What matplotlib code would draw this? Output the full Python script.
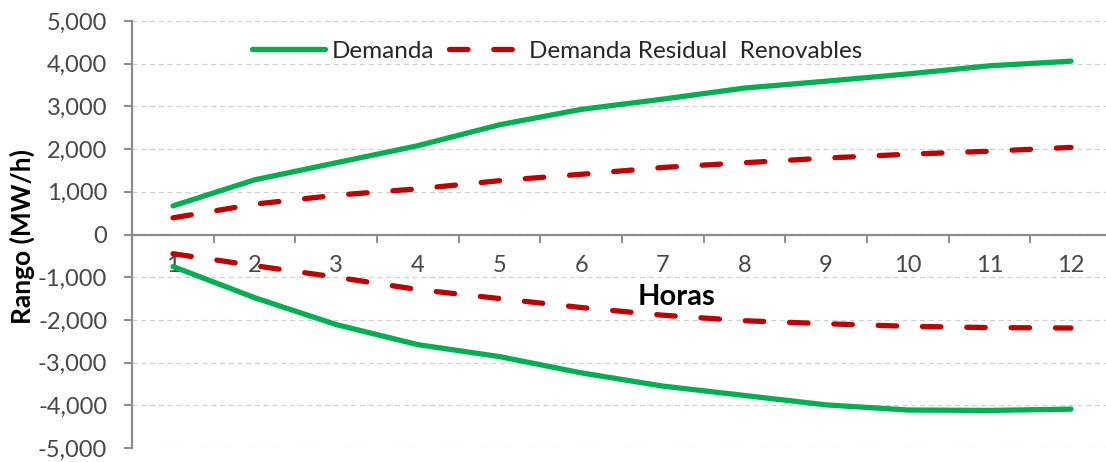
import matplotlib
matplotlib.use("Agg")
import matplotlib.pyplot as plt
from matplotlib.ticker import FuncFormatter, FixedLocator

# Hourly ranges (MW/h)
horas = list(range(1, 13))
demanda_sup = [670, 1280, 1680, 2080, 2570, 2930, 3170, 3430, 3590, 3760, 3950, 4060]
residual_sup = [390, 710, 920, 1070, 1260, 1410, 1570, 1680, 1790, 1880, 1950, 2040]
demanda_inf = [-750, -1480, -2110, -2580, -2860, -3240, -3550, -3770, -3990, -4110, -4120, -4090]
residual_inf = [-450, -730, -1000, -1290, -1500, -1710, -1890, -2020, -2090, -2150, -2180, -2190]

verde = "#00B050"
rojo = "#C00000"
fuente = "Lato"
gris_texto = "#474747"

W, H = 1106, 462
fig = plt.figure(figsize=(W / 100, H / 100), dpi=100)
left_px, right_px = 132.2, 1111.8
top_px, bot_px = 21, 448
ax = fig.add_axes([left_px / W, 1 - bot_px / H, (right_px - left_px) / W, (bot_px - top_px) / H])

lw = 3.8
guiones = (3.5, 4.9)
ax.plot(horas, demanda_sup, color=verde, lw=lw, solid_capstyle="round", label="Demanda", zorder=3)
ax.plot(horas, residual_sup, color=rojo, lw=lw, dashes=guiones, dash_capstyle="round",
        label="Demanda Residual  Renovables", zorder=3)
ax.plot(horas, demanda_inf, color=verde, lw=lw, solid_capstyle="round", zorder=3)
ax.plot(horas, residual_inf, color=rojo, lw=lw, dashes=guiones, dash_capstyle="round", zorder=3)

ax.set_xlim(0.5, 12.5)
ax.set_ylim(-5000, 5000)

# axes styling
for s in ("top", "right"):
    ax.spines[s].set_visible(False)
ax.spines["bottom"].set_position(("data", 0))
ax.spines["left"].set_position(("data", 0.5))
for s in ("bottom", "left"):
    ax.spines[s].set_color("#8c8c8c")
    ax.spines[s].set_linewidth(1.6)

ax.yaxis.set_major_locator(FixedLocator(range(-5000, 5001, 1000)))
ax.yaxis.set_major_formatter(FuncFormatter(lambda v, p: f"{int(v):,}"))
ax.tick_params(axis="y", direction="out", length=6, width=1.4, color="#8c8c8c",
               pad=12, labelsize=17, labelcolor=gris_texto)
for t in ax.get_yticklabels():
    t.set_fontfamily(fuente)

ax.xaxis.set_major_locator(FixedLocator([i + 0.5 for i in range(0, 13)]))
ax.xaxis.set_major_formatter(FuncFormatter(lambda v, p: ""))
ax.xaxis.set_minor_locator(FixedLocator(horas))
ax.xaxis.set_minor_formatter(FuncFormatter(lambda v, p: f"{int(v)}"))
ax.tick_params(axis="x", which="major", direction="out", length=6, width=1.4, color="#8c8c8c")
ax.tick_params(axis="x", which="minor", length=0, pad=15, labelsize=17, labelcolor=gris_texto)
for t in ax.get_xticklabels(minor=True):
    t.set_fontfamily(fuente)

ax.grid(axis="y", which="major", color="#d0d0d0", linestyle=(0, (4, 3)), linewidth=0.9, zorder=0)

ax_w = right_px - left_px
leg = ax.legend(loc="upper center", bbox_to_anchor=((557 - left_px) / ax_w, 1.005),
                ncol=2, frameon=False, handlelength=3.0, columnspacing=0.6, handletextpad=0.3,
                prop={"family": fuente, "size": 17.5})
for t in leg.get_texts():
    t.set_color("#262626")

fig.text(677 / W, 1 - 297 / H, "Horas", ha="center", va="center", fontsize=21,
         fontweight="bold", family=fuente, color="black")
fig.text(22 / W, 1 - 236 / H, "Rango (MW/h)", ha="center", va="center", rotation=90,
         fontsize=19, fontweight="bold", family=fuente, color="black")

fig.savefig("out.png", dpi=100)
